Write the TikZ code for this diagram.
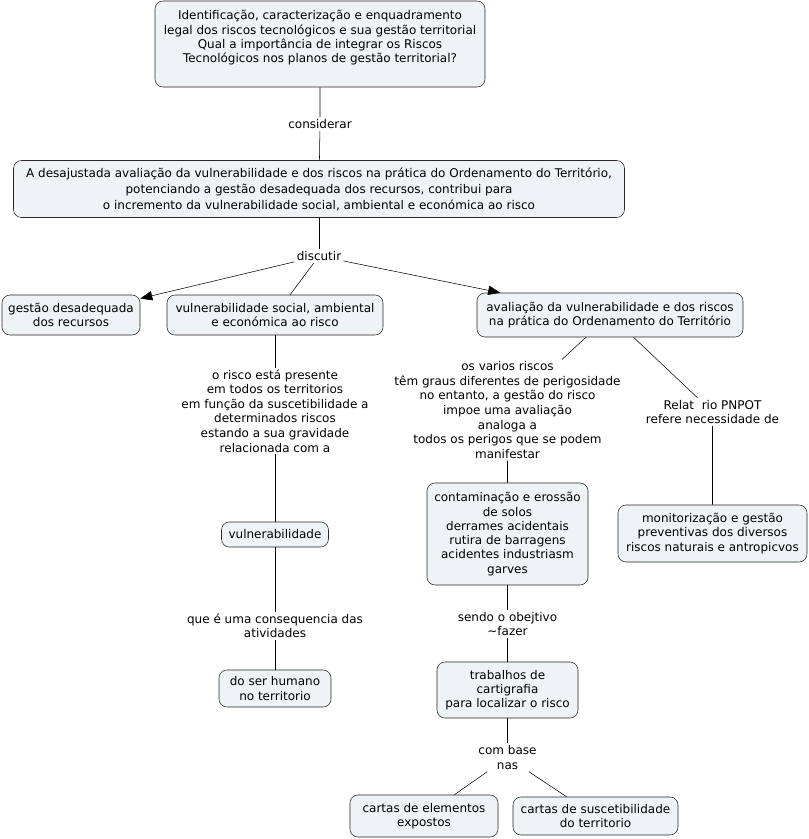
\documentclass[tikz,border=0pt]{standalone}
\usepackage{fontspec}
\setmainfont{DejaVu Sans}
\usetikzlibrary{arrows.meta}
\definecolor{conceptfill}{RGB}{238,243,245}

\begin{document}
\begin{tikzpicture}[x=0.75pt,y=-0.75pt,>={Triangle[length=9pt,width=7pt]},
  concept/.style={draw=black!85,fill=conceptfill,rounded corners=6pt,align=center,
    inner sep=1pt,font=\fontsize{9}{10.7}\selectfont},
  csize/.style 2 args={minimum width=#1*0.75pt,minimum height=#2*0.75pt},
  linking/.style={align=center,inner sep=1.5pt,font=\fontsize{9}{10.9}\selectfont}]
  \useasboundingbox (0,0) rectangle (809,839);
  % focus question and main proposition
  \node[concept,csize={330}{86}] (focus) at (320,44)
    {Identificação, caracterização e enquadramento\\legal dos riscos tecnológicos e sua gestão territorial\\
     Qual a importância de integrar os Riscos\\Tecnológicos nos planos de gestão territorial?\\[-3pt]\strut};
  \node[linking] (considerar) at (320,124) {considerar};
  \node[concept,csize={611}{57},font=\fontsize{9}{12}\selectfont] (premissa) at (319,189)
    {A desajustada avaliação da vulnerabilidade e dos riscos na prática do Ordenamento do Território,\\
     potenciando a gestão desadequada dos recursos, contribui para\\
     o incremento da vulnerabilidade social, ambiental e económica ao risco};
  \node[linking] (discutir) at (319,256) {discutir};
  % second level
  \node[concept,csize={138}{40}] (gestao) at (71,315) {gestão desadequada\\dos recursos};
  \node[concept,csize={216}{40}] (vulnsocial) at (275,315) {vulnerabilidade social, ambiental\\e económica ao risco};
  \node[concept,csize={266}{44}] (avaliacao) at (610,315) {avaliação da vulnerabilidade e dos riscos\\na prática do Ordenamento do Território};
  % left branch
  \node[linking] (presente) at (275,411)
    {o risco está presente\\em todos os territorios\\em função da suscetibilidade a\\determinados riscos\\estando a sua gravidade\\relacionada com a};
  \node[concept,csize={107}{25}] (vulner) at (275,534.5) {vulnerabilidade};
  \node[linking] (consequencia) at (275,626) {que é uma consequencia das\\atividades};
  \node[concept,csize={112}{37}] (humano) at (275,688.5) {do ser humano\\no territorio};
  % right branch
  \node[linking] (riscos) at (507.5,410)
    {os varios riscos\\têm graus diferentes de perigosidade\\no entanto, a gestão do risco\\impoe uma avaliação\\analoga a\\todos os perigos que se podem\\manifestar};
  \node[linking] (pnpot) at (712.5,412) {Relat~~rio PNPOT\\refere necessidade de};
  \node[concept,csize={161}{102}] (contaminacao) at (507.5,534)
    {contaminação e erossão\\de solos\\derrames acidentais\\rutira de barragens\\acidentes industriasm\\garves};
  \node[concept,csize={189}{57}] (monitor) at (712.5,533.5)
    {monitorização e gestão\\preventivas dos diversos\\riscos naturais e antropicvos};
  \node[linking] (sendo) at (507.5,624) {sendo o obejtivo\\\textasciitilde fazer};
  \node[concept,csize={141}{56}] (cartografia) at (507.5,690) {trabalhos de\\cartigrafia\\para localizar o risco};
  \node[linking] (base) at (507.5,757.5) {com base\\nas};
  \node[concept,csize={148}{42}] (expostos) at (424,816) {cartas de elementos\\expostos};
  \node[concept,csize={165}{38}] (suscet) at (595.5,816) {cartas de suscetibilidade\\do territorio};
  % connectors
  \draw (focus) -- (considerar) -- (premissa);
  \draw (premissa) -- (discutir);
  \draw[->] (discutir) -- (gestao);
  \draw (discutir) -- (vulnsocial);
  \draw[->] (discutir) -- (avaliacao);
  \draw (vulnsocial) -- (presente) -- (vulner) -- (consequencia) -- (humano);
  \draw (avaliacao) -- (riscos) -- (contaminacao);
  \draw (avaliacao) -- (pnpot) -- (monitor);
  \draw (contaminacao) -- (sendo) -- (cartografia);
  \draw (cartografia) -- (base);
  \draw (base) -- (expostos);
  \draw (base) -- (suscet);
\end{tikzpicture}
\end{document}
